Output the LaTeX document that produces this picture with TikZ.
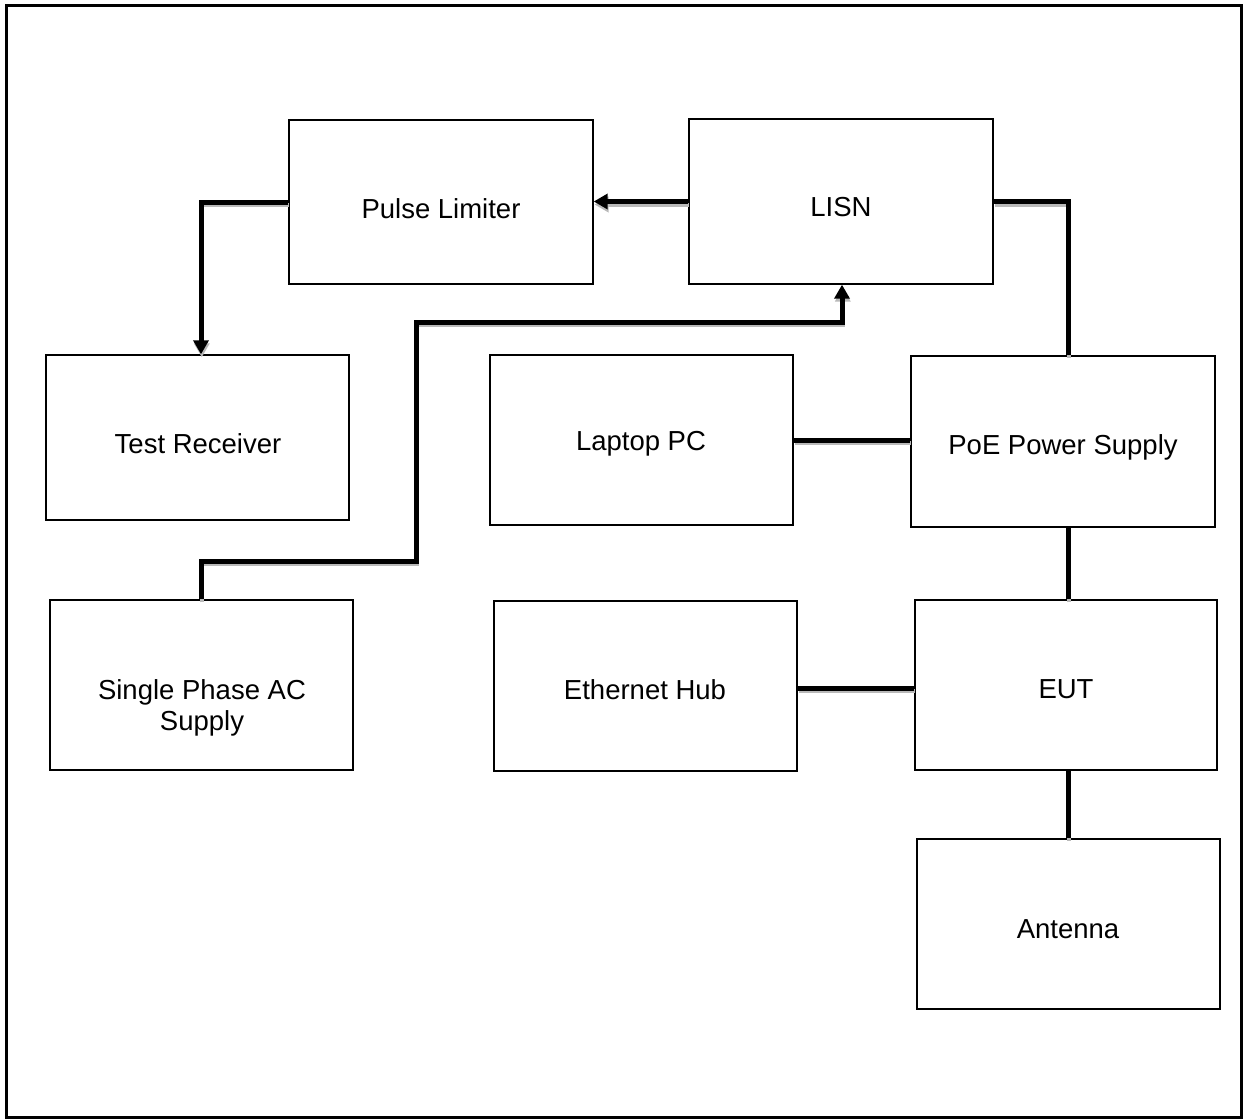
\documentclass[tikz,border=0pt]{standalone}
\usepackage{fontspec}
\setmainfont{Liberation Sans}
\usetikzlibrary{arrows.meta}
\begin{document}
\begin{tikzpicture}[x=1pt,y=-1pt,
  box/.style={draw, line width=1.4pt, inner sep=0pt},
  lbl/.style={font=\fontsize{27.5}{31}\selectfont, align=center, inner sep=0pt},
  conn/.style={line width=5pt, black,
    preaction={draw=gray!55, line width=4pt, transform canvas={shift={(0.8pt,-3pt)}}}},
  tip/.style={-{Triangle[width=15pt,length=14pt]}}]
\useasboundingbox (0,0) rectangle (1244,1119);
\draw[line width=3pt] (6.5,5.5) rectangle (1241.5,1117.5);
% boxes
\node[box, minimum width=304pt, minimum height=164pt] (pl) at (441,202) {};
\node[box, minimum width=304pt, minimum height=165pt] (lisn) at (841,201.5) {};
\node[box, minimum width=303pt, minimum height=165pt] (tr) at (197.5,437.5) {};
\node[box, minimum width=303pt, minimum height=170pt] (lap) at (641.5,440) {};
\node[box, minimum width=304pt, minimum height=171pt] (poe) at (1063,441.5) {};
\node[box, minimum width=303pt, minimum height=170pt] (ac) at (201.5,685) {};
\node[box, minimum width=303pt, minimum height=170pt] (hub) at (645.5,686) {};
\node[box, minimum width=302pt, minimum height=170pt] (eut) at (1066,685) {};
\node[box, minimum width=303pt, minimum height=170pt] (ant) at (1068.5,924) {};
% labels
\node[lbl] (tpl) at (441,209) {Pulse Limiter};
\node[lbl] (tlisn) at (841,207) {LISN};
\node[lbl] (ttr) at (198,444) {Test Receiver};
\node[lbl] (tlap) at (641,444) {Laptop PC};
\node[lbl] (tpoe) at (1063,447) {PoE Power Supply};
\node[lbl] (tac) at (202,708) {Single Phase AC\\Supply};
\node[lbl] (thub) at (645,690) {Ethernet Hub};
\node[lbl] (teut) at (1066,689) {EUT};
\node[lbl] (tant) at (1068,929) {Antenna};
% connectors
\draw[conn,tip] (pl.west) -| ([xshift=3.5pt]tr.north);
\draw[conn,tip] (lisn.west) -- (lisn.west -| pl.east);
\draw[conn,tip] (ac.north) |- (416,561) -- (416,322) -| ([xshift=1pt]lisn.south);
\draw[conn] (lisn.east) -| ([xshift=5pt]poe.north);
\draw[conn] (lap.east) -- (lap.east -| poe.west);
\draw[conn] ([xshift=2pt]eut.north) -- ([xshift=2pt]eut.north |- poe.south);
\draw[conn] ([yshift=-2pt]hub.east) -- ([yshift=-2pt]hub.east -| eut.west);
\draw[conn] ([xshift=2pt]eut.south) -- ([xshift=2pt]eut.south |- ant.north);
\end{tikzpicture}
\end{document}
